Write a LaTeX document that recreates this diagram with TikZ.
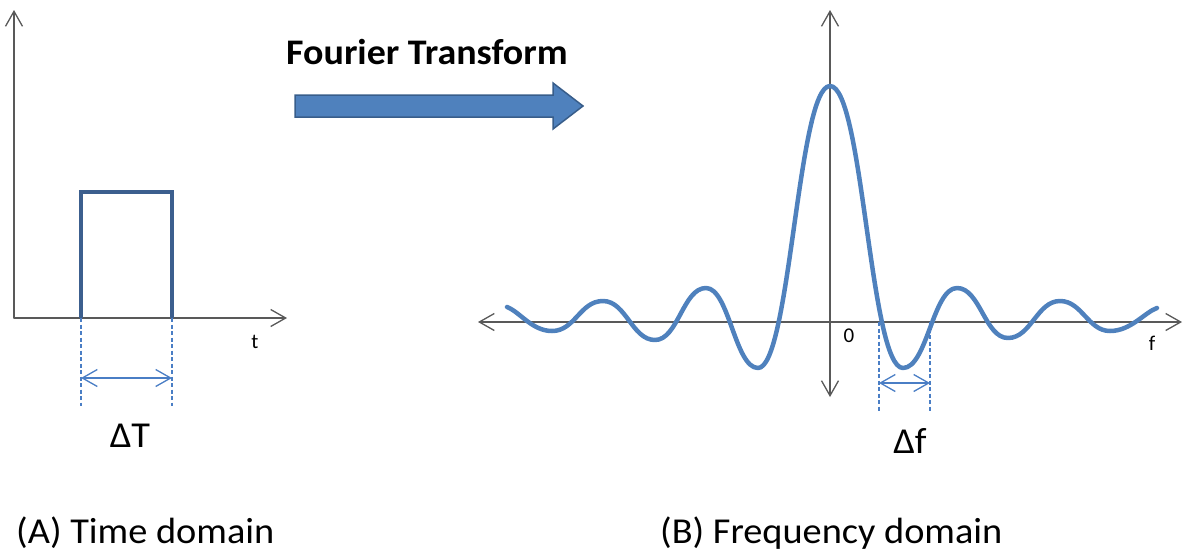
\documentclass[tikz,border=0pt]{standalone}
\usepackage{fontspec}
\setmainfont{Carlito}
\usetikzlibrary{arrows.meta}
\definecolor{axisgray}{HTML}{595959}
\definecolor{pulseblue}{HTML}{3C5F8E}
\definecolor{sincblue}{HTML}{4F81BD}
\definecolor{dimblue}{HTML}{4A7EC5}
\definecolor{arrowborder}{HTML}{385D8A}
\newcommand{\widetxt}[1]{\scalebox{1.05}[1]{#1}}
\tikzset{
  barb/.tip={Straight Barb[length=15pt,width=17pt]},
  axisline/.style={draw=axisgray,line width=1.3pt,line cap=round},
  pulse/.style={draw=pulseblue,line width=3.5pt,line join=miter},
  sinc/.style={draw=sincblue,line width=4.5pt,line cap=round,line join=round},
  dimline/.style={draw=dimblue,line width=1.2pt,dash pattern=on 4pt off 2.5pt},
  dimarrow/.style={draw=dimblue,line width=1.3pt,barb-barb},
  bigtxt/.style={font=\fontsize{36.5}{40}\selectfont,anchor=base,inner sep=0pt},
  smalltxt/.style={font=\fontsize{21}{24}\selectfont,anchor=base,inner sep=0pt},
  blockarrow/.style={fill=sincblue,draw=arrowborder,line width=1.5pt,line join=miter}
}
\begin{document}
\begin{tikzpicture}[x=1pt,y=-1pt]
\useasboundingbox (0,0) rectangle (1183,550);
% ---- left: time domain
\coordinate (o1) at (14,318);
\coordinate (ytop1) at (14,10);
\coordinate (xend1) at (287,318);
\draw[axisline,-barb] (o1) -- (ytop1);
\draw[axisline,-barb] (o1) -- (xend1);
\coordinate (pa) at (81,318);
\coordinate (pb) at (81,192);
\coordinate (pc) at (172,192);
\coordinate (pd) at (172,318);
\draw[pulse] (pa) -- (pb) -- (pc) -- (pd);
\coordinate (da) at (81,406);
\coordinate (db) at (172,406);
\draw[dimline] (pa) -- (da);
\draw[dimline] (pd) -- (db);
\coordinate (dta) at (81,378);
\coordinate (dtb) at (172,378);
\draw[dimarrow] (dta) -- (dtb);
\node[bigtxt] (dT) at (130,447) {\widetxt{ΔT}};
\node[smalltxt] (tlab) at (255,348) {t};
\node[bigtxt,anchor=base west] (capA) at (16,543) {\widetxt{(A) Time domain}};
% ---- middle: Fourier transform arrow
\node[bigtxt,font=\bfseries\fontsize{36}{40}\selectfont,anchor=base west] (ft) at (286,64) {\scalebox{1.055}[1]{Fourier Transform}};
\draw[blockarrow] (295,95) -- (553,95) -- (553,83) -- (583,106) -- (553,129) -- (553,117) -- (295,117) -- cycle;
% ---- right: frequency domain
\coordinate (hl) at (478,322);
\coordinate (hr) at (1182,322);
\coordinate (vt) at (830,10);
\coordinate (vb) at (830,397);
\draw[axisline,barb-barb] (hl) -- (hr);
\draw[axisline,barb-barb] (vb) -- (vt);
\node[smalltxt] (zero) at (849,342) {0};
\node[smalltxt] (flab) at (1152,350) {f};
\draw[sinc] (507,307)
  .. controls (520,312) and (532,331) .. (552,331)
  .. controls (575,331) and (580,301) .. (603,301)
  .. controls (626,301) and (632,340) .. (655,340)
  .. controls (678,340) and (683,288) .. (706,288)
  .. controls (729,288) and (735,368) .. (758,368)
  .. controls (790,368) and (798,86) .. (830,86)
  .. controls (863,86) and (870,368) .. (903,368)
  .. controls (927,368) and (933,288) .. (957,288)
  .. controls (980,288) and (985,338) .. (1008,338)
  .. controls (1031,338) and (1037,301) .. (1060,301)
  .. controls (1082,301) and (1088,331) .. (1110,331)
  .. controls (1131,331) and (1145,312) .. (1157,308);
\coordinate (fa) at (879,322);
\coordinate (fb) at (930,322);
\coordinate (fa2) at (879,411);
\coordinate (fb2) at (930,411);
\draw[dimline] (fa) -- (fa2);
\draw[dimline] (fb) -- (fb2);
\coordinate (dfa) at (879,383);
\coordinate (dfb) at (930,383);
\draw[dimarrow] (dfa) -- (dfb);
\node[bigtxt] (df) at (910,453) {\widetxt{Δf}};
\node[bigtxt,anchor=base west] (capB) at (660,543) {\widetxt{(B) Frequency domain}};
\end{tikzpicture}
\end{document}
